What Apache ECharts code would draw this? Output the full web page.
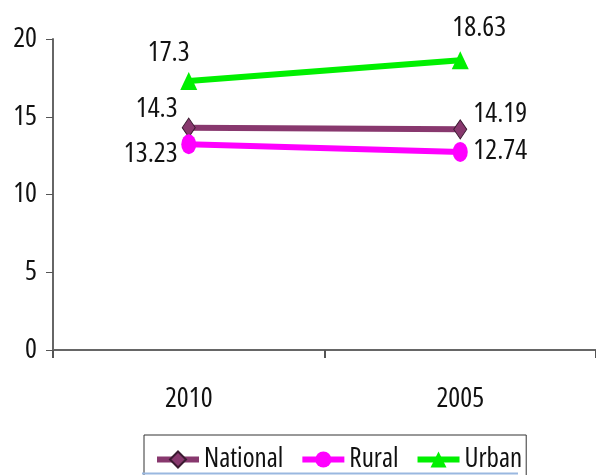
<!DOCTYPE html>
<html>
<head>
<meta charset="utf-8">
<script src="https://cdn.jsdelivr.net/npm/echarts@6/dist/echarts.min.js"></script>
<style>
html,body{margin:0;padding:0;background:#fff;}
#chart{width:596px;height:475px;}
</style>
</head>
<body>
<div id="chart"></div>
<script>
var categories = ['2010', '2005'];
var seriesNames = ['National', 'Rural', 'Urban'];
var national = [14.3, 14.19];
var rural = [13.23, 12.74];
var urban = [17.3, 18.63];
var yTicks = [0, 5, 10, 15, 20];

var FONT = "'Open Sans', 'DejaVu Sans Condensed', Arial, sans-serif";
var STRETCH = 'condensed';
var colors = ['#88386e', '#ff00ff', '#00f000'];
var symbols = ['diamond', 'circle', 'triangle'];
var symbolSizes = [[13, 19], [15, 20], [17, 18]];
var labelOffsets = [
  [[-32, -19], [40, -15]],
  [[-38, 10], [40, -1]],
  [[-20, -28], [19, -32]]
];
var values = [national, rural, urban];

var chart = echarts.init(document.getElementById('chart'), null, {renderer: 'canvas'});

var series = seriesNames.map(function (name, si) {
  return {
    name: name,
    type: 'line',
    data: values[si].map(function (v, i) {
      return {
        value: v,
        label: {offset: labelOffsets[si][i]}
      };
    }),
    symbol: symbols[si],
    symbolSize: symbolSizes[si],
    showAllSymbol: true,
    lineStyle: {color: colors[si], width: 6},
    itemStyle: {color: colors[si], borderColor: si === 0 ? '#3a1a30' : colors[si], borderWidth: si === 0 ? 1 : 0},
    label: {
      show: true,
      position: 'inside',
      color: '#111',
      fontFamily: FONT,
      fontStyle: STRETCH,
      fontSize: 28,
      formatter: function (p) { return String(p.value); }
    },
    emphasis: {disabled: true},
    animation: false
  };
});

chart.setOption({
  backgroundColor: '#ffffff',
  animation: false,
  grid: {left: 53, right: -8, top: 39, bottom: 125, containLabel: false},
  xAxis: {
    type: 'category',
    data: categories,
    boundaryGap: true,
    axisLine: {lineStyle: {color: '#666', width: 2}},
    axisTick: {show: true, length: 8, lineStyle: {color: '#555', width: 2}},
    axisLabel: {color: '#111', fontFamily: FONT, fontStyle: STRETCH, fontSize: 28, margin: 35}
  },
  yAxis: {
    type: 'value',
    min: yTicks[0],
    max: yTicks[yTicks.length - 1],
    interval: 5,
    splitLine: {show: false},
    axisLine: {show: true, lineStyle: {color: '#666', width: 2}},
    axisTick: {show: true, length: 7, lineStyle: {color: '#555', width: 1}},
    axisLabel: {color: '#111', fontFamily: FONT, fontStyle: STRETCH, fontSize: 28, margin: 16}
  },
  legend: {
    data: seriesNames,
    left: 144,
    top: 435,
    orient: 'horizontal',
    itemWidth: 42,
    itemHeight: 20,
    itemGap: 16,
    padding: [11, 4, 12, 10],
    borderColor: '#333',
    borderWidth: 1,
    lineStyle: {width: 6},
    textStyle: {color: '#111', fontFamily: FONT, fontStyle: STRETCH, fontSize: 27, padding: [0, 0, 0, 0]}
  },
  graphic: [{
    type: 'line',
    shape: {x1: 142, y1: 473.5, x2: 518, y2: 473.5},
    style: {stroke: '#9ab8e0', lineWidth: 2},
    silent: true,
    z: 100
  }],
  series: series
});
</script>
</body>
</html>
